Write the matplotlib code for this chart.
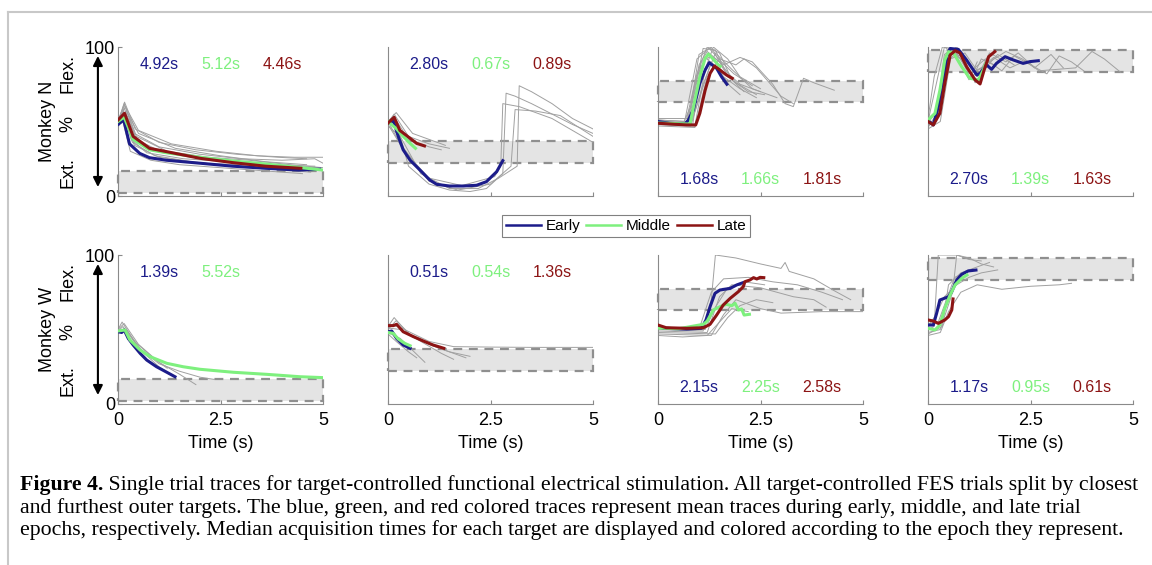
import matplotlib
matplotlib.use("Agg")
import matplotlib.pyplot as plt
from matplotlib.lines import Line2D
from matplotlib.patches import Rectangle
import numpy as np

plt.rcParams['font.family'] = ['Liberation Sans', 'DejaVu Sans']

EPOCHS = ["Early", "Middle", "Late"]
EPOCH_COLORS = ["#1c1c8a", "#7ef07e", "#8c1414"]
TARGET_BANDS = [(2, 17), (22, 37), (63, 77), (83, 98)]
X_TICKS = [0, 2.5, 5]
X_TICK_LABELS = ["0", "2.5", "5"]

N_MEDIANS = [["4.92s", "5.12s", "4.46s"], ["2.80s", "0.67s", "0.89s"],
             ["1.68s", "1.66s", "1.81s"], ["2.70s", "1.39s", "1.63s"]]
W_MEDIANS = [["1.39s", "5.52s", None], ["0.51s", "0.54s", "1.36s"],
             ["2.15s", "2.25s", "2.58s"], ["1.17s", "0.95s", "0.61s"]]

# ---- Monkey N, (time s, % position) ----
N1_EARLY = [(0, 48), (0.14, 51), (0.28, 35), (0.53, 28.6), (0.77, 25.7), (1.18, 24), (2.0, 22),
            (2.8, 20), (3.6, 18.6), (4.4, 17.4), (4.92, 18)]
N1_MIDDLE = [(0, 50), (0.15, 53), (0.37, 38), (0.77, 31), (1.18, 29), (2.0, 26), (2.8, 23.5),
             (3.6, 21.5), (4.4, 19.2), (5.0, 17.4)]
N1_LATE = [(0, 51), (0.16, 55.5), (0.37, 40), (0.77, 32), (1.18, 29.8), (2.0, 25.3), (2.8, 22.4),
           (3.6, 20), (4.46, 18.6)]
N1_TRIALS = [
    [(0, 49), (0.15, 62), (0.4, 42), (1.0, 33), (2.0, 28), (3.0, 25), (4.0, 24), (4.8, 25), (5.0, 22)],
    [(0, 47), (0.12, 58), (0.35, 36), (0.9, 27), (1.8, 23), (2.8, 20), (3.8, 18), (4.7, 16)],
    [(0, 50), (0.18, 60), (0.45, 40), (1.2, 30), (2.2, 26), (3.2, 24), (4.2, 21), (5.0, 19)],
    [(0, 46), (0.1, 52), (0.3, 30), (0.8, 24), (1.5, 21), (2.5, 19), (3.5, 17), (4.5, 15)],
    [(0, 51), (0.16, 61), (0.5, 44), (1.3, 35), (2.4, 30), (3.4, 27), (4.3, 26), (5.0, 26)],
    [(0, 48), (0.14, 55), (0.4, 34), (1.0, 26), (2.0, 22), (3.0, 21), (4.0, 20), (4.9, 19)],
    [(0, 49), (0.15, 59), (0.45, 38), (1.1, 29), (2.1, 25), (3.1, 22), (4.1, 19), (5.0, 17)],
    [(0, 52), (0.2, 57), (0.5, 42), (1.4, 32), (2.5, 27), (3.6, 23), (4.6, 21)],
    [(0, 50), (0.16, 63), (0.42, 45), (1.0, 36), (1.9, 31), (2.9, 28), (3.9, 26), (4.6, 25)],
    [(0, 47), (0.13, 56), (0.32, 38), (0.7, 29), (1.6, 25), (2.7, 23), (3.7, 21), (4.8, 20)],
]

N2_EARLY = [(0, 49), (0.13, 50.5), (0.25, 40), (0.37, 31), (0.54, 24), (0.78, 17.4), (1.02, 10.7),
            (1.19, 7.8), (1.5, 6.7), (1.84, 6.7), (2.16, 7.2), (2.4, 9.6), (2.65, 16.3), (2.8, 23.7)]
N2_MIDDLE = [(0, 50), (0.21, 45), (0.37, 40), (0.54, 35.3), (0.67, 32)]
N2_LATE = [(0, 49), (0.15, 52.8), (0.29, 44), (0.54, 38.7), (0.7, 35.3), (0.89, 33.6)]
N2_TRIALS = [
    [(0, 49), (0.15, 55), (0.5, 40), (1.0, 35), (1.5, 32)],
    [(0, 48), (0.15, 53), (0.5, 38), (1.0, 33), (1.3, 31)],
    [(0, 48), (0.2, 50), (0.5, 20), (1.0, 8), (1.5, 4), (2.0, 3), (2.4, 5), (2.8, 15), (2.88, 69),
     (3.1, 67), (3.5, 62), (4.0, 55), (4.5, 48), (5.0, 42)],
    [(0, 47), (0.3, 40), (0.8, 15), (1.5, 5), (2.2, 5), (2.7, 12), (3.15, 20), (3.2, 74), (3.5, 70),
     (4.0, 62), (4.5, 52), (5.0, 45)],
    [(0, 50), (0.3, 35), (1.0, 10), (1.7, 4), (2.5, 8), (3.0, 20), (3.1, 58), (3.6, 57), (4.2, 54),
     (5.0, 40)],
    [(0, 48), (0.4, 30), (1.0, 12), (1.8, 7), (2.6, 13), (2.75, 20), (2.8, 62), (3.2, 60), (4.0, 52),
     (5.0, 36)],
    [(0, 50), (0.2, 56), (0.6, 42), (1.1, 37), (1.4, 34)],
]

N3_EARLY = [(0, 50), (0.29, 48.8), (0.66, 48.3), (0.74, 51), (0.86, 57.7), (1.02, 75.6), (1.15, 84.6),
            (1.25, 89.5), (1.43, 85.7), (1.55, 80), (1.68, 75)]
N3_MIDDLE = [(0, 49), (0.78, 48.3), (0.9, 64.4), (1.02, 80), (1.15, 92.4), (1.23, 95.3), (1.35, 91.7),
             (1.47, 88), (1.52, 87)]
N3_LATE = [(0, 48.8), (0.69, 47.7), (0.92, 47.7), (1.02, 55.5), (1.15, 71), (1.27, 82.3), (1.38, 87.2),
           (1.51, 84.6), (1.67, 81.2), (1.81, 79)]
N3_TRIALS = [
    [(0, 51), (0.7, 50), (0.9, 70), (1.1, 99), (1.4, 98), (1.7, 80), (2.2, 70), (2.6, 68)],
    [(0, 49), (0.6, 48), (0.8, 60), (1.0, 95), (1.3, 100), (1.6, 85), (2.0, 75), (2.5, 70)],
    [(0, 48), (0.8, 47), (1.1, 75), (1.4, 96), (1.8, 85), (2.3, 72), (2.9, 66)],
    [(0, 50), (0.75, 49), (1.0, 88), (1.2, 97), (1.5, 90), (1.9, 76), (2.4, 68)],
    [(0, 47), (0.9, 46), (1.2, 80), (1.5, 92), (1.9, 88), (2.1, 92), (2.4, 86), (3.0, 67), (3.3, 62)],
    [(0, 50), (0.85, 48), (1.05, 90), (1.3, 94), (1.6, 88), (2.0, 93), (2.3, 90), (2.8, 75), (3.1, 62),
     (3.3, 60), (3.55, 79), (3.8, 76), (4.3, 71)],
    [(0, 52), (0.7, 52), (0.95, 82), (1.2, 100), (1.5, 96), (1.8, 78), (2.1, 70)],
    [(0, 49), (0.8, 49), (1.0, 65), (1.3, 90), (1.6, 80), (2.0, 72), (2.4, 66)],
    [(0, 51), (0.65, 50), (0.95, 92), (1.25, 99), (1.55, 90), (1.85, 82), (2.3, 74)],
    [(0, 48), (0.9, 47), (1.15, 85), (1.35, 100), (1.7, 92), (2.0, 80), (2.5, 72)],
    [(0, 50), (0.72, 49), (0.92, 78), (1.15, 93), (1.45, 86), (1.75, 74), (2.0, 68)],
]

N4_EARLY = [(0, 50.6), (0.13, 47.7), (0.25, 60), (0.37, 73.4), (0.46, 93.5), (0.54, 99), (0.74, 98.4),
            (0.94, 91.3), (1.19, 81.2), (1.27, 82.3), (1.43, 88), (1.55, 85), (1.67, 89), (1.88, 93.5),
            (2.08, 91.3), (2.32, 89), (2.49, 90.2), (2.69, 90.8)]
N4_MIDDLE = [(0, 51), (0.17, 55.5), (0.29, 71), (0.41, 91.3), (0.5, 96.9), (0.62, 96), (0.82, 86.8),
             (1.02, 79), (1.23, 77.9), (1.35, 84.6), (1.41, 89)]
N4_LATE = [(0, 50), (0.13, 47.7), (0.29, 55.5), (0.41, 75.6), (0.54, 94.6), (0.66, 97.5), (0.78, 96),
           (0.94, 86.8), (1.15, 77.9), (1.27, 75.2), (1.37, 84.6), (1.48, 93.5), (1.63, 96.9)]
N4_TRIALS = [
    [(0, 48), (0.2, 52), (0.4, 95), (0.7, 100), (1.0, 88), (1.2, 80), (1.5, 96), (1.9, 90), (2.2, 96),
     (2.6, 86), (3.0, 95), (3.3, 86)],
    [(0, 49), (0.3, 60), (0.5, 99), (0.8, 97), (1.1, 85), (1.4, 92), (1.8, 84), (2.1, 94), (2.5, 88),
     (2.9, 82), (3.2, 94), (3.5, 90), (3.8, 84)],
    [(0, 47), (0.25, 55), (0.45, 90), (0.7, 96), (1.0, 82), (1.3, 86), (1.6, 93), (2.0, 86), (2.4, 91),
     (2.7, 84), (3.6, 86), (4.0, 97), (4.3, 92), (4.7, 83)],
    [(0, 50), (0.2, 75), (0.4, 100), (0.8, 92), (1.1, 80), (1.3, 92), (1.6, 88)],
    [(0, 45), (0.3, 50), (0.55, 92), (0.9, 96), (1.2, 84), (1.5, 90), (1.9, 97), (2.3, 92), (2.6, 86)],
    [(0, 52), (0.15, 80), (0.35, 100), (0.6, 99), (1.0, 78), (1.2, 90)],
    [(0, 46), (0.28, 58), (0.5, 96), (0.85, 94), (1.15, 76), (1.4, 86), (1.7, 95), (2.1, 88)],
]

# ---- Monkey W ----
W1_EARLY = [(0, 48.5), (0.09, 48), (0.15, 49.7), (0.25, 44), (0.37, 39.6), (0.54, 34), (0.7, 29.5),
            (0.94, 25), (1.19, 21.3), (1.39, 18.3)]
W1_MIDDLE = [(0, 49), (0.17, 49.7), (0.29, 43), (0.54, 36.2), (0.78, 31.8), (1.19, 27.3), (1.59, 25),
             (2.0, 23.3), (2.81, 21.3), (3.63, 19.9), (4.44, 18.3), (5.0, 17.7)]
W1_LATE = []
W1_TRIALS = [
    [(0, 50), (0.15, 54), (0.5, 40), (1.0, 28), (1.5, 20), (1.9, 13)],
    [(0, 49), (0.12, 52), (0.5, 38), (1.0, 27), (1.5, 22), (2.0, 18), (2.35, 16.5)],
    [(0, 48), (0.2, 50), (0.6, 35), (1.0, 25), (1.4, 18)],
    [(0, 50), (0.1, 55), (0.4, 42), (0.9, 30), (1.2, 24)],
]

W2_EARLY = [(0, 48.5), (0.09, 49), (0.21, 44), (0.37, 39.6), (0.54, 37.4)]
W2_MIDDLE = [(0, 48), (0.13, 47.4), (0.25, 43.6), (0.41, 40.7), (0.54, 39.1)]
W2_LATE = [(0, 52.6), (0.13, 52.6), (0.21, 53.5), (0.37, 48.5), (0.62, 45.2), (0.86, 42.3), (1.1, 39.6),
           (1.36, 37.4)]
W2_TRIALS = [
    [(0, 52), (0.15, 58), (0.5, 47), (1.0, 40), (1.5, 35), (2.0, 32)],
    [(0, 50), (0.2, 56), (0.6, 45), (1.2, 38), (1.9, 31)],
    [(0, 48), (0.3, 44), (0.6, 36), (0.9, 28)],
    [(0, 51), (0.3, 50), (0.8, 42), (1.3, 34), (1.6, 30)],
    [(0, 47), (0.2, 42), (0.5, 35), (0.7, 31)],
    [(0, 53), (0.25, 52), (1.0, 42), (1.6, 38.5), (2.5, 38.2), (3.5, 38), (5.0, 38)],
]

W3_EARLY = [(0, 51.9), (0.13, 50.8), (0.7, 50.3), (1.06, 50.8), (1.17, 56.4), (1.27, 65.3), (1.39, 74.3),
            (1.51, 76.5), (1.76, 77.6), (1.92, 79.9), (2.07, 81.4)]
W3_MIDDLE = [(0, 51), (0.5, 50.5), (1.11, 53.5), (1.2, 55.7), (1.35, 63.1), (1.51, 65.3), (1.67, 66.9),
             (1.8, 66), (1.88, 67.6), (1.96, 63.1), (2.04, 63.8), (2.1, 59.7), (2.23, 60.2)]
W3_LATE = [(0, 53), (0.2, 51.2), (0.7, 50.8), (1.11, 51.2), (1.27, 53.5), (1.43, 59.7), (1.59, 66.4),
           (1.76, 70.9), (1.96, 75.4), (2.08, 78.7), (2.12, 82.1), (2.24, 83.2), (2.33, 84.8), (2.41, 83.9),
           (2.49, 85), (2.58, 84.8)]
W3_TRIALS = [
    [(0, 50), (1.1, 49), (1.3, 70), (1.4, 100), (1.9, 98), (2.5, 94), (3.0, 91), (3.1, 95), (3.2, 89),
     (3.8, 84), (4.3, 76), (4.7, 70)],
    [(0, 52), (1.0, 50), (1.3, 75), (1.6, 84), (2.2, 85), (2.8, 82), (3.4, 80), (4.0, 75), (4.5, 70)],
    [(0, 49), (1.2, 48), (1.5, 72), (1.8, 80), (2.5, 78), (3.3, 72), (3.8, 70), (4.1, 65)],
    [(0, 47), (1.3, 46), (1.6, 60), (1.9, 70), (2.5, 64), (3.0, 61), (4.0, 62), (5.0, 62)],
    [(0, 51), (1.15, 50), (1.4, 65), (1.7, 78), (2.1, 82), (2.6, 80)],
    [(0, 48), (1.4, 47), (1.7, 58), (2.0, 66), (2.4, 70), (2.8, 68)],
    [(0, 46), (0.6, 45), (1.2, 46), (1.5, 55), (1.8, 64), (2.2, 62)],
]

W4_EARLY = [(0, 53), (0.13, 53), (0.21, 60.8), (0.29, 69.8), (0.5, 72), (0.58, 75.4), (0.7, 83.2),
            (0.82, 87), (0.98, 89.3), (1.17, 89.9)]
W4_MIDDLE = [(0, 50.8), (0.17, 49.7), (0.29, 53), (0.41, 64.2), (0.54, 73.2), (0.66, 79.9), (0.82, 84.3),
             (0.95, 86.6)]
W4_LATE = [(0, 56.4), (0.13, 55.7), (0.25, 54.1), (0.41, 56.4), (0.5, 58.6), (0.58, 63.1), (0.61, 70.5)]
W4_TRIALS = [
    [(0, 50), (0.15, 52), (0.25, 100), (0.7, 100), (1.0, 98), (1.3, 94), (1.6, 92)],
    [(0, 48), (0.3, 50), (0.6, 75), (0.7, 100), (1.0, 97), (1.3, 96)],
    [(0, 52), (0.2, 60), (0.4, 72), (0.7, 80), (1.0, 85), (1.3, 88), (1.7, 90)],
    [(0, 46), (0.3, 48), (0.5, 62), (0.8, 75), (1.2, 80), (1.8, 77), (2.5, 79), (3.2, 80), (3.5, 81)],
    [(0, 54), (0.25, 55), (0.45, 70), (0.65, 85), (0.9, 88)],
    [(0, 47), (0.35, 52), (0.5, 80), (0.8, 88), (1.2, 92), (1.5, 95)],
]

ROWS = [
    ("Monkey N", [(N1_EARLY, N1_MIDDLE, N1_LATE, N1_TRIALS), (N2_EARLY, N2_MIDDLE, N2_LATE, N2_TRIALS),
                  (N3_EARLY, N3_MIDDLE, N3_LATE, N3_TRIALS), (N4_EARLY, N4_MIDDLE, N4_LATE, N4_TRIALS)],
     N_MEDIANS),
    ("Monkey W", [(W1_EARLY, W1_MIDDLE, W1_LATE, W1_TRIALS), (W2_EARLY, W2_MIDDLE, W2_LATE, W2_TRIALS),
                  (W3_EARLY, W3_MIDDLE, W3_LATE, W3_TRIALS), (W4_EARLY, W4_MIDDLE, W4_LATE, W4_TRIALS)],
     W_MEDIANS),
]

W, H = 1152, 565
fig = plt.figure(figsize=(W / 100, H / 100), dpi=100)

# page rule (left + top)
fig.add_artist(Line2D([8 / W, 1], [1 - 12 / H] * 2, color="#c8c8c8", lw=1.5))
fig.add_artist(Line2D([8 / W] * 2, [0, 1 - 12 / H], color="#c8c8c8", lw=1.5))

AX_LEFTS = [118, 388, 658, 928]
AX_TOPS = [47, 255]
AX_W, AX_H = 205, 149
SPINE = "#8a8a8a"

for r, (monkey, panels, medians) in enumerate(ROWS):
    for c, (early, middle, late, trials) in enumerate(panels):
        ax = fig.add_axes([AX_LEFTS[c] / W, 1 - (AX_TOPS[r] + AX_H) / H, AX_W / W, AX_H / H])
        lo, hi = TARGET_BANDS[c]
        ax.add_patch(Rectangle((0, lo), 5, hi - lo, facecolor="#e4e4e4", edgecolor="none", zorder=0.5))
        ax.add_patch(Rectangle((0, lo), 5, hi - lo, facecolor="none", edgecolor="#8f8f8f",
                               lw=1.6, linestyle=(0, (4, 3)), zorder=1, clip_on=False))
        for tr in trials:
            a = np.array(tr)
            ax.plot(a[:, 0], a[:, 1], color="#a0a0a0", lw=0.7, zorder=2)
        for k, mean in enumerate([early, middle, late]):
            if len(mean) == 0:
                continue
            a = np.array(mean)
            ax.plot(a[:, 0], a[:, 1], color=EPOCH_COLORS[k], lw=2.2, zorder=3 + k * 0.1)
        # median acquisition times
        ytxt = 88 if c < 2 else 11
        for k, (xt, lab) in enumerate(zip([1.0, 2.5, 4.0], medians[c])):
            if lab:
                ax.text(xt, ytxt, lab, color=EPOCH_COLORS[k], fontsize=11.5, ha="center", va="center")

        ax.set_xlim(0, 5)
        ax.set_ylim(0, 100)
        for s in ["top", "right"]:
            ax.spines[s].set_visible(False)
        for s in ["left", "bottom"]:
            ax.spines[s].set_color(SPINE)
            ax.spines[s].set_linewidth(0.8)
        ax.tick_params(direction="in", length=3, color=SPINE, labelsize=13, pad=6)
        ax.set_xticks(X_TICKS)
        if r == 1:
            ax.set_xticklabels(X_TICK_LABELS)
            ax.set_xlabel("Time (s)", fontsize=13, labelpad=4)
        else:
            ax.set_xticklabels([])
        if c == 0:
            ax.set_yticks([0, 100])
            ax.set_yticklabels(["0", "100"])
            ax.tick_params(axis="y", pad=2)
            ax.annotate("", xy=(-0.098, 94), xytext=(-0.098, 6),
                        xycoords=("axes fraction", "data"), textcoords=("axes fraction", "data"),
                        arrowprops=dict(arrowstyle="<|-|>", color="black", lw=1.5,
                                        mutation_scale=14, shrinkA=0, shrinkB=0),
                        annotation_clip=False)
            tr = ax.get_yaxis_transform()
            ax.text(-0.346, 50, monkey, transform=tr, rotation=90,
                    ha="center", va="center", fontsize=13)
            for yv, lab in [(16, "Ext."), (48, "%"), (82, "Flex.")]:
                ax.text(-0.244, yv, lab, transform=tr, rotation=90, ha="center", va="center", fontsize=13)
        else:
            ax.set_yticks([])

handles = [Line2D([], [], color=col, lw=1.8) for col in EPOCH_COLORS]
leg = fig.legend(handles, EPOCHS, loc="center", bbox_to_anchor=(626 / W, 1 - 226 / H), ncol=3,
                 fontsize=11, fancybox=False, edgecolor="#808080", framealpha=1,
                 handlelength=2.3, handletextpad=0.3, columnspacing=0.4, borderpad=0.25)
leg.get_frame().set_linewidth(0.8)

# caption
CAPTION_BOLD = "Figure 4."
CAPTION_LINES = [
    " Single trial traces for target-controlled functional electrical stimulation. All target-controlled FES trials split by closest",
    "and furthest outer targets. The blue, green, and red colored traces represent mean traces during early, middle, and late trial",
    "epochs, respectively. Median acquisition times for each target are displayed and colored according to the epoch they represent.",
]
renderer = fig.canvas.get_renderer()
x0, x1 = 20, 1133
ys = [485, 508, 530]

# size the caption so the first line spans the page width
probe_b = fig.text(0, 0, CAPTION_BOLD, family="Liberation Serif", weight="bold", fontsize=13)
probe_r = fig.text(0, 0, CAPTION_LINES[0], family="Liberation Serif", fontsize=13)
w13 = probe_b.get_window_extent(renderer).width + probe_r.get_window_extent(renderer).width
probe_b.remove()
probe_r.remove()
cap_size = 13 * (x1 - x0) / w13

tb = fig.text(x0 / W, 1 - ys[0] / H, CAPTION_BOLD, family="Liberation Serif", weight="bold",
              fontsize=cap_size, va="center", ha="left")
bw = tb.get_window_extent(renderer).width
fig.text((x0 + bw) / W, 1 - ys[0] / H, CAPTION_LINES[0], family="Liberation Serif",
         fontsize=cap_size, va="center", ha="left")
for yv, line in zip(ys[1:], CAPTION_LINES[1:]):
    fig.text(x0 / W, 1 - yv / H, line, family="Liberation Serif", fontsize=cap_size, va="center", ha="left")

fig.savefig("out.png", dpi=100)
